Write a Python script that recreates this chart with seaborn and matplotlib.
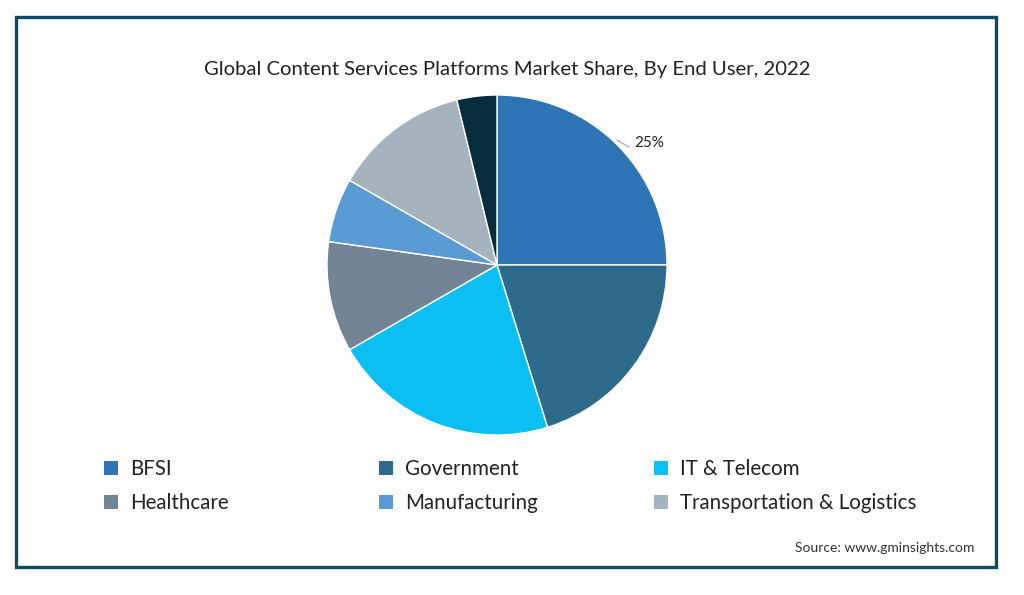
import matplotlib
matplotlib.use("Agg")
import matplotlib.pyplot as plt
from matplotlib.patches import Rectangle, Patch
import seaborn as sns

sns.set_theme(style="white")
plt.rcParams['font.family'] = ['Lato', 'DejaVu Sans']

categories = ["BFSI", "Government", "IT & Telecom", "Healthcare", "Manufacturing",
              "Transportation & Logistics", "Others"]
shares = [25.0, 20.2, 21.5, 10.5, 6.1, 12.9, 3.8]
colors = ["#2e75b6", "#2d6b8c", "#0bbff3", "#738497", "#5b9bd5", "#a4b3bd", "#072c3d"]
legend_items = categories[:6]
title = "Global Content Services Platforms Market Share, By End User, 2022"
source = "Source: www.gminsights.com"

W, H = 1024, 595
fig = plt.figure(figsize=(W / 100, H / 100), dpi=100)
fig.patch.set_facecolor("white")

# frame border
fig.patches.append(Rectangle((16 / W, 1 - 567 / H), (996 - 16) / W, (567 - 17) / H,
                             transform=fig.transFigure, fill=False,
                             edgecolor="#0e4a60", linewidth=2.4, zorder=10))

# pie axes (square in pixels)
cx, cy, r = 497, 265, 170
ax = fig.add_axes([(cx - r) / W, 1 - (cy + r) / H, 2 * r / W, 2 * r / H])
wedges, _ = ax.pie(shares, colors=colors, startangle=90, counterclock=False,
                   wedgeprops=dict(edgecolor="white", linewidth=1.0))
ax.set_xlim(-1, 1)
ax.set_ylim(-1, 1)
ax.set_aspect("equal")
ax.axis("off")

# 25% label with leader line
ax.annotate(f"{shares[0]:.0f}%", xy=(0.705, 0.735), xytext=(0.805, 0.72),
            ha="left", va="center", fontsize=11, color="#222222",
            arrowprops=dict(arrowstyle="-", color="#b0b0b0", lw=1, relpos=(0, 0.15),
                            shrinkA=1, shrinkB=0,
                            connectionstyle="angle,angleA=0,angleB=-30,rad=0"))

fig.text(507 / W, 1 - 69 / H, title, ha="center", va="center", fontsize=14.6, color="#222222")
fig.text(974 / W, 1 - 548 / H, source, ha="right", va="center", fontsize=10, color="#333333")

# legend in three columns
handles = [Patch(facecolor=colors[i], edgecolor="none") for i in range(6)]
col_x = [104, 379, 654]
for c in range(3):
    idx = [c, c + 3]
    fig.legend([handles[i] for i in idx], [legend_items[i] for i in idx],
               loc="upper left", bbox_to_anchor=(col_x[c] / W, 1 - 459 / H),
               frameon=False, fontsize=14.8, handlelength=0.7, handleheight=0.7,
               handletextpad=0.55, labelspacing=0.7, borderaxespad=0, borderpad=0,
               labelcolor="#222222")

fig.savefig("out.png", dpi=100)
